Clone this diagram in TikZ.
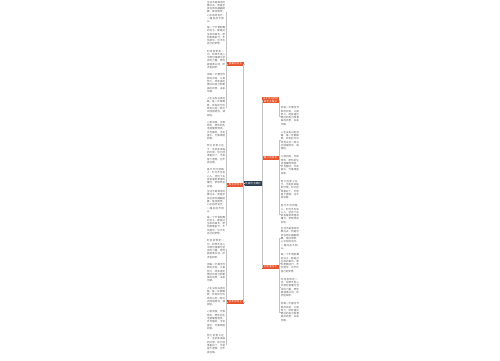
\documentclass[tikz,border=0pt]{standalone}
\usepackage{fontspec}
\newfontfamily\cjk{Noto Sans CJK SC}
\usetikzlibrary{calc,positioning}
\XeTeXlinebreaklocale "zh"
\XeTeXlinebreakskip=0pt plus 1pt
\definecolor{mapNavy}{RGB}{44,62,80}
\definecolor{mapOrange}{RGB}{232,84,44}
\definecolor{mapLine}{RGB}{195,195,195}
\definecolor{leafGray}{RGB}{95,95,95}

\tikzset{
  topic/.style={fill=mapNavy,text=white,inner sep=0.8pt,minimum width=17pt,minimum height=5pt,font=\cjk\fontsize{2.6}{3.0}\selectfont},
  branch/.style={fill=mapOrange,text=white,inner sep=0.6pt,text width=15.8pt,align=center,minimum height=4pt,font=\cjk\fontsize{2.4}{2.9}\selectfont},
  leaf/.style={text=leafGray,inner sep=0.4pt,text width=18.6pt,align=left,font=\cjk\fontsize{2.5}{3.3}\selectfont},
  link/.style={draw=mapLine,line width=0.35pt}
}

\newcommand{\leafline}[1]{\pgfmathtruncatemacro\leafno{mod(#1-1,8)+1}\ifcase\leafno
\or 生活不是等待风暴过去，而是学会在雨中翩翩起舞，保持微笑，心中始终有光，一路向前不回头。
\or 每一个不曾起舞的日子，都是对生命的辜负，愿你勇敢前行，不负韶华，也不负自己的梦想。
\or 时间会带走一切，却带不走心中那份温暖与坚持的力量，愿你被温柔以待，所求皆如愿。
\or 把每一天都当作新的开始，认真努力，终会遇见更好的自己和更美的风景，未来可期。
\or 人生没有白走的路，每一步都算数，所有的付出终将以另一种方式回报给你，请相信。
\or 心若向阳，无畏悲伤，愿你的生活温暖而明亮，岁月静好，平安喜乐，万事顺遂如意。
\or 努力的意义在于，当机会来临的时候，你已经准备好了，不会留下遗憾，也不会后悔。
\or 星光不问赶路人，时光不负有心人，坚持下去就会看到希望的曙光，梦想终会实现。
\fi}

\begin{document}
\begin{tikzpicture}[x=1pt,y=-1pt]
\fill[white] (0,0) rectangle (500,360);
\useasboundingbox (0,0) rectangle (500,360);

% centre and branches
\node[topic] (hub) at (253,183) {优美句子摘抄};
\node[branch] (l1) at (235.5,64) {温暖的句子};
\node[branch] (l2) at (235.5,185) {励志的句子};
\node[branch] (l3) at (235.5,302) {治愈的句子};
\node[branch] (r1) at (270.5,100) {关于生活的经典句子摘抄};
\node[branch] (r2) at (270.5,158) {暖心的短句};
\node[branch] (r3) at (270.5,267) {正能量句子};

\draw[link] (hub.west) -- ++(-0.6,0) coordinate (hubL);
\draw[link] (hubL) |- (l1.east);
\draw[link] (hubL) |- (l2.east);
\draw[link] (hubL) |- (l3.east);
\draw[link] (hub.east) -- ++(0.6,0) coordinate (hubR);
\draw[link] (hubR) |- (r1.west);
\draw[link] (hubR) |- (r2.west);
\draw[link] (hubR) |- (r3.west);

% left leaves
\foreach \y [count=\i] in {12,35.7,59.4,83.1,106.8,130.5,154.2,177.9,201.6,225.3,249,272.7,296.4,320.1,343.8}
  \node[leaf,anchor=east] (ll\i) at (226.3,\y) {\leafline{\i}};
\foreach \i in {1,...,5} \draw[link] (l1.west) -- ++(-0.3,0) |- (ll\i.east);
\foreach \i in {6,...,10} \draw[link] (l2.west) -- ++(-0.3,0) |- (ll\i.east);
\foreach \i in {11,...,15} \draw[link] (l3.west) -- ++(-0.3,0) |- (ll\i.east);

% right leaves
\foreach \y [count=\i from 4] in {116,140.5,165,189.5,214,238.5,263,287.5,312}
  \node[leaf,anchor=west] (rl\i) at (280.3,\y) {\leafline{\i}};
\draw[link] (r1.east) -- ++(0.3,0) |- (rl4.west);
\foreach \i in {5,...,8} \draw[link] (r2.east) -- ++(0.3,0) |- (rl\i.west);
\foreach \i in {9,...,12} \draw[link] (r3.east) -- ++(0.3,0) |- (rl\i.west);
\end{tikzpicture}
\end{document}
